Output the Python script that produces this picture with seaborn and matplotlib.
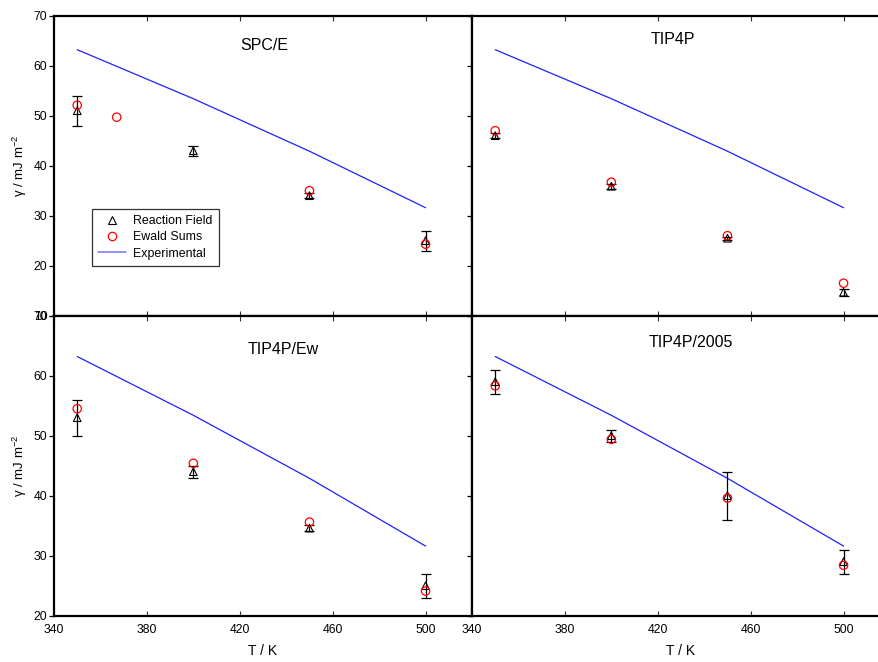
import matplotlib
matplotlib.use('Agg')
import matplotlib.pyplot as plt
import seaborn as sns
from matplotlib.lines import Line2D

# ---- data ----
T_exp = [350, 400, 450, 500]
gamma_exp = [63.2, 53.4, 42.9, 31.6]

models = ['SPC/E', 'TIP4P', 'TIP4P/Ew', 'TIP4P/2005']

rf_T = [350, 400, 450, 500]
rf_spce = [51.0, 43.0, 34.0, 25.0]
rf_spce_err = [3.0, 1.0, 0.5, 2.0]
rf_tip4p = [46.0, 35.9, 25.5, 14.7]
rf_tip4p_err = [0.5, 0.5, 0.3, 0.7]
rf_tip4pew = [53.0, 44.0, 34.6, 25.0]
rf_tip4pew_err = [3.0, 1.0, 0.5, 2.0]
rf_tip4p2005 = [59.0, 50.0, 40.0, 29.0]
rf_tip4p2005_err = [2.0, 1.0, 4.0, 2.0]

ew_spce_T = [350, 367, 450, 500]
ew_spce = [52.1, 49.7, 35.0, 24.3]
ew_T = [350, 400, 450, 500]
ew_tip4p = [47.0, 36.7, 26.0, 16.5]
ew_tip4pew = [54.5, 45.4, 35.6, 24.1]
ew_tip4p2005 = [58.3, 49.4, 39.6, 28.4]

x_ticks = [340, 380, 420, 460, 500]
legend_labels = ['Reaction Field', 'Ewald Sums', 'Experimental']
x_label = 'T / K'
y_label = 'γ / mJ m$^{-2}$'

# ---- style ----
sns.set_style('ticks')
plt.rcParams['font.family'] = ['Liberation Sans', 'DejaVu Sans']
plt.rcParams['mathtext.fontset'] = 'custom'
plt.rcParams['mathtext.rm'] = 'Liberation Sans'
plt.rcParams['mathtext.it'] = 'Liberation Sans'
for k in ['text.color', 'axes.labelcolor', 'xtick.labelcolor', 'ytick.labelcolor', 'ytick.color']:
    plt.rcParams[k] = 'black'

fig = plt.figure(figsize=(8.79, 6.62), dpi=100)
W, H = 879.0, 662.0

def rect(x0, y0, w, h):
    return [x0 / W, 1 - (y0 + h) / H, w / W, h / H]

panels = [
    dict(name='SPC/E', rect=rect(54, 15.7, 418, 300), ylim=(10, 70), top=True, left=True,
         rf=rf_spce, rf_err=rf_spce_err, ewT=ew_spce_T, ew=ew_spce, title_xy=(430.6, 64.0)),
    dict(name='TIP4P/Ew', rect=rect(54, 315.7, 418, 300), ylim=(20, 70), top=False, left=True,
         rf=rf_tip4pew, rf_err=rf_tip4pew_err, ewT=ew_T, ew=ew_tip4pew, title_xy=(438.5, 64.45)),
    dict(name='TIP4P', rect=rect(472, 15.7, 418, 300), ylim=(10, 70), top=True, left=False,
         rf=rf_tip4p, rf_err=rf_tip4p_err, ewT=ew_T, ew=ew_tip4p, title_xy=(426.7, 65.3)),
    dict(name='TIP4P/2005', rect=rect(472, 315.7, 418, 300), ylim=(20, 70), top=False, left=False,
         rf=rf_tip4p2005, rf_err=rf_tip4p2005_err, ewT=ew_T, ew=ew_tip4p2005, title_xy=(434.3, 65.6)),
]

axes = {}
for p in panels:
    ax = fig.add_axes(p['rect'])
    axes[p['name']] = ax
    ax.set_facecolor('white')
    # experimental line
    sns.lineplot(x=T_exp, y=gamma_exp, ax=ax, color='#2020ff', linewidth=0.9,
                 estimator=None, sort=False, zorder=2)
    # reaction field error bars + triangles
    ax.errorbar(rf_T, p['rf'], yerr=p['rf_err'], fmt='none', ecolor='black',
                elinewidth=0.9, capsize=3.5, capthick=0.9, zorder=3)
    sns.scatterplot(x=rf_T, y=p['rf'], ax=ax, marker='^', s=30,
                    facecolors='none', edgecolors='black', linewidths=0.8, zorder=4)
    # Ewald sums circles
    sns.scatterplot(x=p['ewT'], y=p['ew'], ax=ax, marker='o', s=36,
                    facecolors='none', edgecolors='#ff0000', linewidths=0.9, zorder=5)

    ax.set_xlim(340, 520)
    ax.set_ylim(*p['ylim'])
    ax.set_xticks(x_ticks)
    ax.set_yticks(list(range(p['ylim'][0], 71, 10)))
    for s in ax.spines.values():
        s.set_linewidth(1.6)
        s.set_color('black')
    ax.tick_params(axis='x', which='both', direction='in', top=True, bottom=True,
                   length=3.5, width=0.8, color='#333333', labelsize=8.8,
                   labelcolor='black', labelbottom=not p['top'], pad=6)
    ax.tick_params(axis='y', which='both', direction='out', left=True, right=False,
                   length=3.3, width=0.9, color='black', labelsize=8.8,
                   labelcolor='black', labelleft=p['left'], pad=1.5)
    if not p['top']:
        ax.set_xlabel(x_label, fontsize=10, labelpad=6, color='black')
    else:
        ax.set_xlabel('')
    if p['left']:
        ax.set_ylabel(y_label, fontsize=9.5, color='black')
        ax.yaxis.label.set_va('center')
        ax.yaxis.set_label_coords(-34 / 418, 0.5)
    else:
        ax.set_ylabel('')
    ax.text(p['title_xy'][0], p['title_xy'][1], p['name'], fontsize=11.5,
            ha='center', va='center', color='black')
    if ax.get_legend() is not None:
        ax.get_legend().remove()

# legend in SPC/E panel
ax0 = axes['SPC/E']
handles = [
    Line2D([], [], linestyle='none', marker='^', markersize=5.5, markerfacecolor='none',
           markeredgecolor='black', markeredgewidth=0.8),
    Line2D([], [], linestyle='none', marker='o', markersize=6, markerfacecolor='none',
           markeredgecolor='#ff0000', markeredgewidth=0.9),
    Line2D([], [], color='#7070ff', linewidth=1.1),
]
leg = ax0.legend(handles, legend_labels, loc='upper left', bbox_to_anchor=(0.09, 0.356),
                 borderaxespad=0, fontsize=8.9, frameon=True, fancybox=False,
                 edgecolor='black', handlelength=2.3, handletextpad=0.55,
                 labelspacing=0.35, borderpad=0.5)
leg.get_frame().set_linewidth(0.9)
for t in leg.get_texts():
    t.set_color('black')

fig.savefig('out.png', dpi=100)
